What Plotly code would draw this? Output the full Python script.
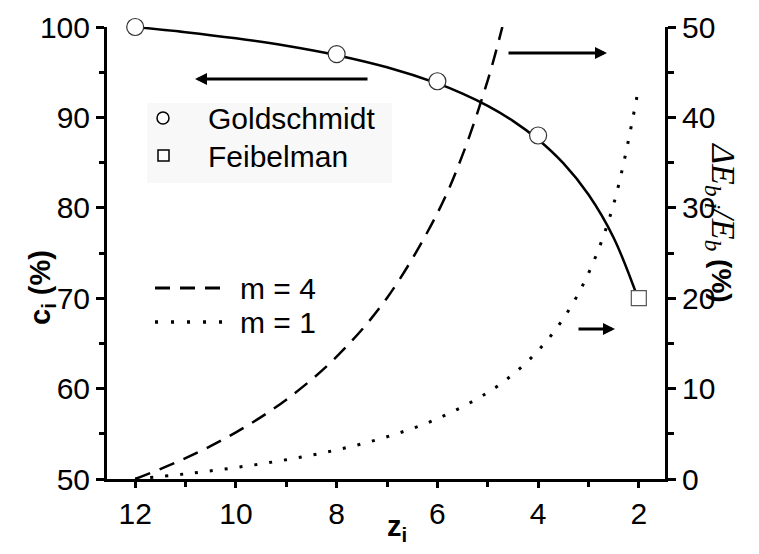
import plotly.graph_objects as go

# coordination number z_i
z_curve = [12, 11, 10, 9, 8, 7, 6, 5.5, 5, 4.5, 4, 3.5, 3, 2.5, 2]
# bond contraction coefficient c_i (%), solid line, left axis
c_curve = [100, 99.43, 98.75, 97.92, 96.88, 95.54, 93.76, 92.63, 91.27,
           89.62, 87.56, 84.94, 81.47, 76.69, 69.73]

# Goldschmidt / Feibelman points
z_gold = [12, 8, 6, 4]
c_gold = [100, 97.0, 94.0, 88.0]
z_feib = [2]
c_feib = [70.0]

# relative bond energy change (%), right axis
z_m4 = [12, 11, 10, 9, 8, 7, 6, 5.5, 5, 4.71]
dE_m4 = [0, 2.3, 5.16, 8.78, 13.54, 20.03, 29.4, 35.85, 44.1, 50.0]
z_m1 = [12, 11, 10, 9, 8, 7, 6, 5, 4.5, 4, 3.5, 3, 2.5, 2]
dE_m1 = [0, 0.57, 1.27, 2.13, 3.22, 4.67, 6.66, 9.56, 11.58, 14.2,
         17.73, 22.75, 30.4, 43.41]

FONT = "Liberation Sans, Arial, sans-serif"
OFF = 8  # default body margin of the html page
W, H = 759 - OFF, 554 - OFF
L, R, T, B = 107 - OFF, 94, 27 - OFF, 75


# page pixel -> paper coords (paper is the plot area)
def px(x):
    return (x - OFF - L) / (W - L - R)


def py(y):
    return (H - B - (y - OFF)) / (H - T - B)


fig = go.Figure()

fig.add_trace(go.Scatter(
    x=z_curve, y=c_curve, mode="lines", line=dict(color="black", width=2.5, shape="spline"),
    cliponaxis=False,
))
fig.add_trace(go.Scatter(
    x=z_m4, y=dE_m4, yaxis="y2", mode="lines", name="m = 4",
    line=dict(color="black", width=2.5, dash="16px,10px", shape="spline"),
))
fig.add_trace(go.Scatter(
    x=z_m1, y=dE_m1, yaxis="y2", mode="lines", name="m = 1",
    line=dict(color="black", width=3, dash="3px,12px", shape="spline"),
))
fig.add_trace(go.Scatter(
    x=z_gold, y=c_gold, mode="markers", name="Goldschmidt", cliponaxis=False,
    marker=dict(symbol="circle", size=17, color="white", line=dict(color="#333", width=1.2)),
))
fig.add_trace(go.Scatter(
    x=z_feib, y=c_feib, mode="markers", name="Feibelman", cliponaxis=False,
    marker=dict(symbol="square", size=15, color="white", line=dict(color="#555", width=1.2)),
))

axis_common = dict(
    showline=True, linecolor="black", linewidth=3, ticks="outside",
    tickcolor="black", tickwidth=2.5, showgrid=False, zeroline=False, automargin=False,
    tickfont=dict(family=FONT, size=30, color="black"),
)

fig.update_layout(
    width=W, height=H,
    margin=dict(l=L, r=R, t=T, b=B),
    paper_bgcolor="white", plot_bgcolor="white",
    font=dict(family=FONT, size=30, color="black"),
    showlegend=False,
    xaxis=dict(range=[12.56, 1.48], tickvals=[12, 10, 8, 6, 4, 2], ticklen=6,
               minor=dict(tickvals=[11, 9, 7, 5, 3], ticklen=5, tickwidth=2.5, tickcolor="black"),
               **axis_common),
    yaxis=dict(range=[50, 100], tickvals=[50, 60, 70, 80, 90, 100], ticklen=8,
               minor=dict(tickvals=[55, 65, 75, 85, 95], ticklen=5, tickwidth=2.5, tickcolor="black"),
               **axis_common),
    yaxis2=dict(range=[0, 50], overlaying="y", side="right", tickvals=[0, 10, 20, 30, 40, 50],
                ticklen=8,
                minor=dict(tickvals=[5, 15, 25, 35, 45], ticklen=6, tickwidth=2.5, tickcolor="black"),
                **axis_common),
)

# legend boxes drawn by hand (faint background, symbols, line samples)
fig.add_shape(type="rect", xref="paper", yref="paper", layer="below",
              x0=px(147), x1=px(392), y0=py(183), y1=py(103),
              fillcolor="#f8f8f8", line=dict(width=0))
fig.add_shape(type="circle", xref="paper", yref="paper",
              x0=px(157), x1=px(169), y0=py(124), y1=py(112),
              fillcolor="white", line=dict(color="black", width=1.5))
fig.add_shape(type="rect", xref="paper", yref="paper",
              x0=px(158), x1=px(169), y0=py(161), y1=py(150),
              fillcolor="white", line=dict(color="black", width=1.5))
fig.add_shape(type="line", xref="paper", yref="paper",
              x0=px(155), x1=px(222), y0=py(288), y1=py(288),
              line=dict(color="black", width=3, dash="15px,10px"))
fig.add_shape(type="line", xref="paper", yref="paper",
              x0=px(155), x1=px(225), y0=py(322), y1=py(322),
              line=dict(color="black", width=3.5, dash="3px,13px"))

legend_texts = [
    ("Goldschmidt", 206, 118),
    ("Feibelman", 206, 156),
    ("m = 4", 238, 288),
    ("m = 1", 238, 322),
]
for txt, x, y in legend_texts:
    fig.add_annotation(text=txt, xref="paper", yref="paper", x=px(x), y=py(y),
                       xanchor="left", yanchor="middle", showarrow=False,
                       font=dict(size=30))

# arrows pointing at the relevant axis
arrows = [
    (195, 79, 369, 79),
    (607, 53, 507, 53),
    (615, 329, 577, 329),
]
for hx, hy, tx, ty in arrows:
    fig.add_annotation(
        x=px(hx), y=py(hy), xref="paper", yref="paper",
        ax=tx - hx, ay=ty - hy,
        showarrow=True, arrowhead=2, arrowsize=0.8, arrowwidth=3, arrowcolor="black", text="",
    )

# axis titles
fig.add_annotation(
    text="<b>c<sub>i</sub> (%)</b>", xref="paper", yref="paper",
    x=px(22), y=py(288), showarrow=False, textangle=-90, font=dict(size=29),
)
fig.add_annotation(
    text="<b>z<sub>i</sub></b>", xref="paper", yref="paper",
    x=px(397), y=py(528), yanchor="middle", showarrow=False, font=dict(size=29),
)
fig.add_annotation(
    text="<span style='font-family:Liberation Serif, serif;font-size:34px'><i>ΔE</i>"
         "<sub><i>b i</i></sub><i>/E</i><sub><i>b</i></sub></span> <b>(%)</b>",
    xref="paper", yref="paper", x=px(744), y=py(222), showarrow=False, textangle=90,
    font=dict(size=28),
)

fig.write_html("out.html")
